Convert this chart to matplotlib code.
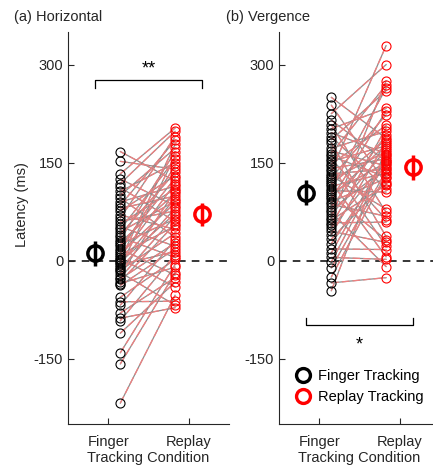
import numpy as np
import matplotlib
matplotlib.use('Agg')
import matplotlib.pyplot as plt
from matplotlib.lines import Line2D

plt.rcParams['font.family'] = ['Liberation Sans', 'DejaVu Sans']
plt.rcParams['axes.unicode_minus'] = False

# (a) horizontal latency (ms), finger vs replay, paired per row
horiz_finger = [167, 152, 133, 125, 118, 112, 106, 100, 96, 90, 85, 80, 76, 70, 65, 60, 56, 52,
                48, 44, 40, 36, 32, 28, 25, 22, 18, 15, 12, 9, 6, 3, 1, -2, -4, -6, -9, -12,
                -15, -18, -22, -26, -28, -32, -35, -38, -56, -63, -68, -80, -88, -92, -111,
                -141, -158, -218]
horiz_replay = [122, 140, 203, 84, 198, 60, 150, 172, 36, 114, 184, 99, 130, 48, 190, 76, 110, 22,
                155, 91, 135, 5, 167, 103, 64, 126, -22, 145, 88, 53, 118, -40, 178, 72, 95, 14,
                160, 80, 42, -68, 107, 68, 27, 56, -10, 18, 2, -62, 32, -26, -72, 9, -33,
                -6, -19, -53]

# (b) vergence latency (ms)
verg_finger = [250, 238, 225, 215, 208, 202, 196, 190, 185, 180, 172, 168, 164, 160, 156, 152,
               148, 145, 141, 137, 133, 130, 127, 124, 120, 117, 114, 110, 107, 104, 100, 97,
               94, 90, 86, 82, 78, 74, 70, 66, 62, 58, 54, 50, 45, 40, 33, 26, 18, 12, 5, -2,
               -11, -25, -34, -46]
verg_replay = [187, 118, 300, 152, 74, 233, 164, 110, 260, 37, 198, 145, 269, 128, 63, 176,
               207, 22, 156, 329, 140, 79, 223, 167, 6, 185, 134, 264, 105, 150, 32, 178,
               229, 126, 68, 192, 142, -9, 170, 275, 116, 59, 203, 153, 28, 182, 121, 148,
               17, 161, 2, 158, 137, 132, -26, 172]

# group means and error bars
horiz_mean = [11, 71]
horiz_err = [19, 18]
verg_mean = [104, 143]
verg_err = [19, 19]

conditions = ['Finger', 'Replay']
W, H = 433, 465
fig = plt.figure(figsize=(W / 100, H / 100), dpi=100)

ax_a = fig.add_axes([68 / W, 41 / H, 161 / W, 392 / H])
ax_b = fig.add_axes([279 / W, 41 / H, 161 / W, 392 / H])

def draw_panel(ax, finger, replay, means, errs):
    xf, xr = 1.15, 1.83
    ax.axhline(0, color='black', ls=(0, (5, 4)), lw=1.1, zorder=1)
    for f, r in zip(finger, replay):
        ax.plot([xf, xr], [f, r], color='#8c8c8c', lw=0.9, zorder=2)
        ax.plot([xf, xr], [f, r], color='#f08080', lw=0.9, ls=(0, (6, 2.5)), zorder=2)
    ax.plot([xf] * len(finger), finger, 'o', mfc='none', mec='black', ms=6.5, mew=0.8, zorder=3)
    ax.plot([xr] * len(replay), replay, 'o', mfc='none', mec='red', ms=6.5, mew=0.8, zorder=3)
    for x, m, e, c in zip([0.84, 2.16], means, errs, ['black', 'red']):
        ax.errorbar(x, m, yerr=e, fmt='o', mfc='none', mec=c, ecolor=c, ms=11, mew=2.5,
                    elinewidth=2.5, capsize=0, zorder=4)
    ax.set_xlim(0.5, 2.5)
    ax.set_ylim(-250, 350)
    ax.set_xticks([1, 2])
    ax.set_xticklabels(conditions)
    ax.set_yticks([-150, 0, 150, 300])
    ax.set_xlabel('Tracking Condition', fontsize=10.5, color='#262626', labelpad=1)
    ax.tick_params(direction='in', length=4, labelsize=10.5, colors='#262626', width=0.8)
    ax.tick_params(axis='x', pad=8)
    for s in ['top', 'right']:
        ax.spines[s].set_visible(False)
    for s in ['left', 'bottom']:
        ax.spines[s].set_color('#262626')
        ax.spines[s].set_linewidth(0.8)

draw_panel(ax_a, horiz_finger, horiz_replay, horiz_mean, horiz_err)
draw_panel(ax_b, verg_finger, verg_replay, verg_mean, verg_err)

ax_a.set_ylabel('Latency (ms)', fontsize=10.5, color='#262626')
ax_a.yaxis.set_label_coords(-0.245, 0.56)

# significance brackets
ax_a.plot([0.84, 0.84, 2.16, 2.16], [265, 277, 277, 265], color='black', lw=0.9)
ax_a.text(1.5, 280, '**', ha='center', va='bottom', fontsize=13)
ax_b.plot([0.83, 0.83, 2.16, 2.16], [-87, -98, -98, -87], color='black', lw=0.9)
ax_b.text(1.5, -116, '*', ha='center', va='top', fontsize=13)

handles = [Line2D([], [], ls='none', marker='o', mfc='none', mec='black', ms=10, mew=2.4),
           Line2D([], [], ls='none', marker='o', mfc='none', mec='red', ms=10, mew=2.4)]
ax_b.legend(handles, ['Finger Tracking', 'Replay Tracking'], loc='upper left',
            bbox_to_anchor=(0.07, 0.155), frameon=False, fontsize=10.5, handlelength=1.0,
            handletextpad=0.5, labelspacing=0.45, borderaxespad=0)

fig.text(14 / W, 1 - 17 / H, '(a) Horizontal', fontsize=10.5, va='center', color='#262626')
fig.text(226 / W, 1 - 17 / H, '(b) Vergence', fontsize=10.5, va='center', color='#262626')

fig.savefig('out.png', dpi=100)
